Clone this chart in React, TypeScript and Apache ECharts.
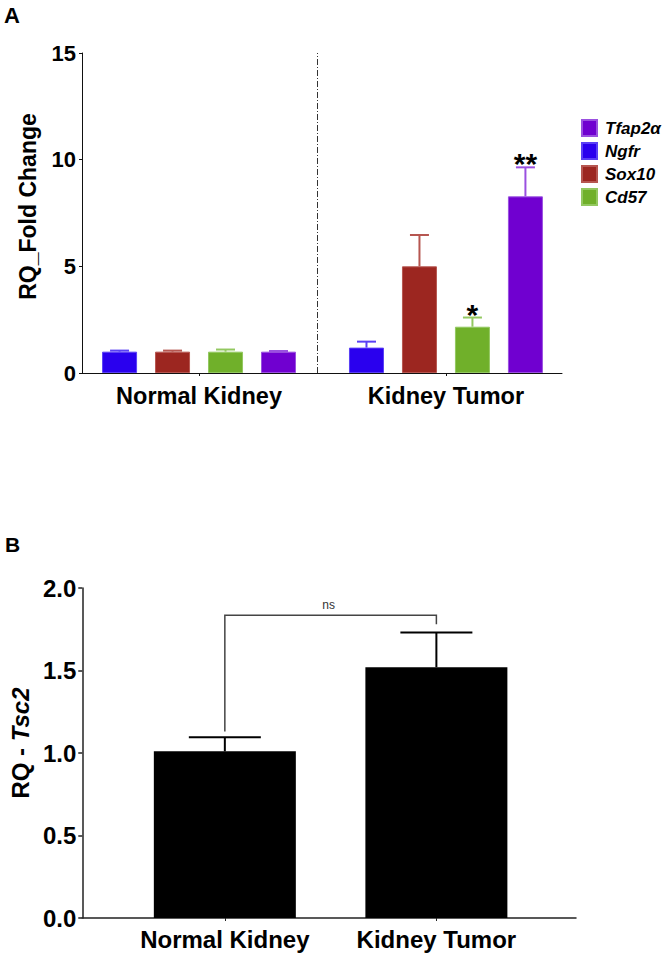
import React, { useEffect, useRef } from "react";
import * as echarts from "echarts";

// ---- Data ----
const groups = ["Normal Kidney", "Kidney Tumor"];

// Panel A genes (plot order left → right inside each group)
const genes = ["Ngfr", "Sox10", "Cd57", "Tfap2α"];
const legendOrder = ["Tfap2α", "Ngfr", "Sox10", "Cd57"];
const ngfrMean = [1.0, 1.19];
const ngfrErr = [0.05, 0.28];
const sox10Mean = [1.0, 5.0];
const sox10Err = [0.05, 1.47];
const cd57Mean = [1.0, 2.17];
const cd57Err = [0.1, 0.43];
const tfap2Mean = [1.0, 8.28];
const tfap2Err = [0.03, 1.36];
const ngfrSig = ["", ""];
const sox10Sig = ["", ""];
const cd57Sig = ["", "*"];
const tfap2Sig = ["", "**"];
const yTicksA = [0, 5, 10, 15];

// Panel B
const tsc2Mean = [1.01, 1.52];
const tsc2Err = [0.085, 0.21];
const bracketLevel = 1.835;
const bracketEnds = [1.13, 1.78];
const bracketLabel = "ns";
const yTicksB = [0, 0.5, 1.0, 1.5, 2.0];

const FONT = "'Liberation Sans', Arial, Helvetica, sans-serif";

const geneColors = ["#2a00ee", "#9c2620", "#70b02a", "#7000d0"];
const geneBorders = ["#5a40f5", "#b65650", "#93c860", "#9a50e0"];

export default function App() {
  const ref = useRef<HTMLDivElement>(null);

  useEffect(() => {
    if (!ref.current) return;
    const chart = echarts.init(ref.current, null, { renderer: "svg" });

    const means = [ngfrMean, sox10Mean, cd57Mean, tfap2Mean];
    const errs = [ngfrErr, sox10Err, cd57Err, tfap2Err];
    const sigs = [ngfrSig, sox10Sig, cd57Sig, tfap2Sig];

    // layout: bar spacing 53px on an axis where one group step = 247px
    const step = 53 / 247;
    const xPos = (gi: number, si: number) => gi + (si - 1.5) * step;
    const separatorX = 0.482;

    const barSeriesA: any[] = genes.map((g, si) => ({
      type: "bar",
      name: g,
      xAxisIndex: 0,
      yAxisIndex: 0,
      barWidth: 35,
      barGap: "-100%",
      itemStyle: { color: geneColors[si], borderColor: geneBorders[si], borderWidth: 1 },
      data: groups.map((_, gi) => [xPos(gi, si), means[si][gi]]),
      z: 2,
      ...(si === 0
        ? {
            markLine: {
              silent: true,
              symbol: "none",
              label: { show: false },
              lineStyle: { type: [6, 2, 1, 2], color: "#333", width: 1 },
              data: [{ xAxis: separatorX }],
            },
          }
        : {}),
    }));

    const errSeriesA: any[] = genes.map((g, si) => ({
      type: "custom",
      name: g + " err",
      xAxisIndex: 0,
      yAxisIndex: 0,
      z: 3,
      encode: { x: 0, y: 1 },
      data: groups.map((_, gi) => [xPos(gi, si), means[si][gi], errs[si][gi]]),
      renderItem: (params: any, api: any) => {
        const x = api.value(0);
        const m = api.value(1);
        const e = api.value(2);
        const p0 = api.coord([x, m]);
        const p1 = api.coord([x, m + e]);
        const col = geneBorders[si];
        const children: any[] = [
          { type: "line", shape: { x1: p0[0], y1: p0[1], x2: p1[0], y2: p1[1] }, style: { stroke: col, lineWidth: 2 } },
          { type: "line", shape: { x1: p1[0] - 9.5, y1: p1[1], x2: p1[0] + 9.5, y2: p1[1] }, style: { stroke: col, lineWidth: 2 } },
        ];
        const s = sigs[si][params.dataIndex];
        if (s) {
          children.push({
            type: "text",
            x: p1[0],
            y: p1[1] - 3.5,
            style: { text: s, fontSize: 30, fontWeight: "bold", fill: "#000", align: "center", verticalAlign: "middle", fontFamily: FONT },
          });
        }
        return { type: "group", children };
      },
    }));

    const option: any = {
      animation: false,
      backgroundColor: "#fff",
      title: [
        { text: "A", left: 4, top: 4, padding: 0, textStyle: { fontSize: 22, fontWeight: "bold", color: "#000", fontFamily: FONT } },
        { text: "B", left: 5, top: 534, padding: 0, textStyle: { fontSize: 21, fontWeight: "bold", color: "#000", fontFamily: FONT } },
      ],
      legend: {
        data: legendOrder,
        orient: "vertical",
        left: 581,
        top: 119,
        padding: 0,
        itemWidth: 15,
        itemHeight: 16,
        itemGap: 5,
        icon: "rect",
        selectedMode: false,
        textStyle: { fontSize: 17, fontWeight: "bold", fontStyle: "italic", color: "#000", fontFamily: FONT, padding: [0, 0, 0, 3] },
      },
      grid: [
        { left: 82, top: 53, width: 480, height: 320 },
        { left: 74, top: 588, width: 502, height: 330 },
      ],
      xAxis: [
        {
          type: "value",
          gridIndex: 0,
          min: -0.474,
          max: 1.47,
          splitLine: { show: false },
          axisLine: { show: true, onZero: false, lineStyle: { color: "#111", width: 1 } },
          axisTick: { show: true, length: 3, customValues: [0, 1], lineStyle: { color: "#111" } },
          axisLabel: {
            customValues: [0, 1],
            formatter: (v: number) => groups[Math.round(v)] ?? "",
            fontSize: 23.5,
            fontWeight: "bold",
            color: "#000",
            fontFamily: FONT,
            margin: 11,
          },
        },
        {
          type: "value",
          gridIndex: 1,
          min: -0.674,
          max: 1.66,
          splitLine: { show: false },
          axisLine: { show: true, onZero: false, lineStyle: { color: "#222", width: 1.5 } },
          axisTick: { show: true, length: 3, customValues: [0, 1], lineStyle: { color: "#222" } },
          axisLabel: {
            customValues: [0, 1],
            formatter: (v: number) => groups[Math.round(v)] ?? "",
            fontSize: 24,
            fontWeight: "bold",
            color: "#000",
            fontFamily: FONT,
            margin: 9,
          },
        },
      ],
      yAxis: [
        {
          type: "value",
          gridIndex: 0,
          min: 0,
          max: 15,
          interval: 5,
          splitLine: { show: false },
          axisLine: { show: true, onZero: false, lineStyle: { color: "#111", width: 1 } },
          axisTick: { show: true, length: 3, customValues: yTicksA, lineStyle: { color: "#111" } },
          axisLabel: { customValues: yTicksA, fontSize: 22, fontWeight: "bold", color: "#000", fontFamily: FONT, margin: 6 },
          name: "RQ_Fold Change",
          nameLocation: "middle",
          nameGap: 43,
          nameRotate: 90,
          nameTextStyle: { fontSize: 23, fontWeight: "bold", color: "#000", fontFamily: FONT, padding: [0, 0, 0, 13] },
        },
        {
          type: "value",
          gridIndex: 1,
          min: 0,
          max: 2,
          interval: 0.5,
          splitLine: { show: false },
          axisLine: { show: true, onZero: false, lineStyle: { color: "#222", width: 1.5 } },
          axisTick: { show: true, length: 4, customValues: yTicksB, lineStyle: { color: "#222", width: 1.5 } },
          axisLabel: {
            customValues: yTicksB,
            formatter: (v: number) => v.toFixed(1),
            fontSize: 24,
            fontWeight: "bold",
            color: "#000",
            fontFamily: FONT,
            margin: 6,
          },
          name: "{a|RQ - }{b|Tsc2}",
          nameLocation: "middle",
          nameGap: 46,
          nameRotate: 90,
          nameTextStyle: {
            fontSize: 24,
            fontWeight: "bold",
            color: "#000",
            fontFamily: FONT,
            padding: [0, 0, 0, 20],
            rich: {
              a: { fontSize: 24, fontWeight: "bold", color: "#000", fontFamily: FONT },
              b: { fontSize: 24, fontWeight: "bold", fontStyle: "italic", color: "#000", fontFamily: FONT },
            },
          },
        },
      ],
      series: [
        ...barSeriesA,
        ...errSeriesA,
        {
          type: "bar",
          name: "Tsc2",
          xAxisIndex: 1,
          yAxisIndex: 1,
          barWidth: 142,
          itemStyle: { color: "#000" },
          data: groups.map((_, gi) => [gi, tsc2Mean[gi]]),
          z: 2,
        },
        {
          type: "custom",
          name: "Tsc2 err",
          xAxisIndex: 1,
          yAxisIndex: 1,
          z: 3,
          encode: { x: 0, y: 1 },
          data: groups.map((_, gi) => [gi, tsc2Mean[gi], tsc2Err[gi]]),
          renderItem: (params: any, api: any) => {
            const x = api.value(0);
            const m = api.value(1);
            const e = api.value(2);
            const p0 = api.coord([x, m]);
            const p1 = api.coord([x, m + e]);
            return {
              type: "group",
              children: [
                { type: "line", shape: { x1: p0[0], y1: p0[1], x2: p1[0], y2: p1[1] }, style: { stroke: "#000", lineWidth: 2 } },
                { type: "line", shape: { x1: p1[0] - 36, y1: p1[1], x2: p1[0] + 36, y2: p1[1] }, style: { stroke: "#000", lineWidth: 2 } },
              ],
            };
          },
        },
        {
          type: "custom",
          name: "bracket",
          xAxisIndex: 1,
          yAxisIndex: 1,
          z: 4,
          encode: { x: 0, y: 1 },
          data: [[0, bracketLevel]],
          renderItem: (params: any, api: any) => {
            const pL0 = api.coord([0, bracketEnds[0]]);
            const pL1 = api.coord([0, bracketLevel]);
            const pR1 = api.coord([1, bracketLevel]);
            const pR0 = api.coord([1, bracketEnds[1]]);
            const mid = api.coord([0.5, bracketLevel]);
            return {
              type: "group",
              children: [
                {
                  type: "polyline",
                  shape: { points: [pL0, pL1, pR1, pR0] },
                  style: { stroke: "#444", lineWidth: 1.5, fill: "none" },
                },
                {
                  type: "text",
                  x: mid[0] - 2,
                  y: mid[1] - 10,
                  style: { text: bracketLabel, fontSize: 12, fill: "#333", align: "center", verticalAlign: "middle", fontFamily: FONT },
                },
              ],
            };
          },
        },
      ],
    };

    chart.setOption(option);
    return () => chart.dispose();
  }, []);

  return <div ref={ref} style={{ position: "absolute", left: 0, top: 0, width: 666, height: 955 }} />;
}
